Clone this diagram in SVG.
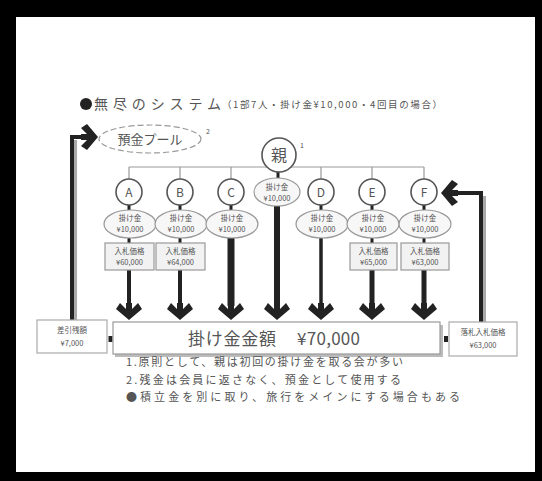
<svg xmlns="http://www.w3.org/2000/svg" width="542" height="481" viewBox="0 0 542 481">
<style>
text{font-family:"Noto Sans CJK JP","Noto Sans",sans-serif;fill:#555}
.lbl{font-size:12px;text-anchor:middle}
.sm{font-size:7.5px;text-anchor:middle}
.circ{fill:#fff;stroke:#555;stroke-width:1.6}
.ell{fill:#f7f7f7;stroke:#999;stroke-width:1.2}
.box{fill:#f2f2f2;stroke:#999;stroke-width:1.2}
.tree{stroke:#999;stroke-width:1.2;fill:none}
.blk{stroke:#222;fill:none}
.shadow{stroke:#aaa;stroke-width:3;fill:none}
</style>
<defs>
<path id="ah" d="M0,0 L-13,-11 L-9,-17 L-3,-11 L-3,-17 L3,-17 L3,-11 L9,-17 L13,-11 Z" fill="#222"/>
</defs>
<rect x="0" y="0" width="542" height="481" fill="#000"/>
<rect x="16" y="17" width="519" height="455" fill="#fff"/>

<g id="title">
<circle cx="86" cy="104" r="6" fill="#222"/>
<text x="94" y="109" font-size="14" textLength="127" lengthAdjust="spacing">無尽のシステム</text>
<text x="222" y="108" font-size="9.5" textLength="220" lengthAdjust="spacing">（1部7人・掛け金¥10,000・4回目の場合）</text>
</g>

<g id="connectors">
<path class="tree" d="M129,167 H424 M129,167 V180 M180,167 V180 M231,167 V180 M321,167 V180 M372,167 V180 M424,167 V180"/>
<path class="blk" stroke-width="3" d="M278,171 V178"/>
<path class="blk" stroke-width="3" d="M129,205 V210 M180,205 V210 M231,205 V210 M321,205 V210 M372,205 V210 M424,205 V210"/>
<path class="blk" stroke-width="3" d="M129,238 V243 M180,238 V243 M372,238 V243 M424,238 V243"/>
<path class="blk" stroke-width="4" d="M129,270 V306 M180,270 V306"/>
<path class="blk" stroke-width="7" d="M231,238 V306"/>
<path class="blk" stroke-width="6" d="M277,206 V306"/>
<path class="blk" stroke-width="3.5" d="M321,238 V306"/>
<path class="blk" stroke-width="5" d="M372,270 V306 M424,270 V306"/>
<use href="#ah" transform="translate(129,320)"/>
<use href="#ah" transform="translate(180,320)"/>
<use href="#ah" transform="translate(231,320)"/>
<use href="#ah" transform="translate(277,320)"/>
<use href="#ah" transform="translate(321,320)"/>
<use href="#ah" transform="translate(372,320)"/>
<use href="#ah" transform="translate(424,320)"/>
<path class="shadow" d="M75.5,320 V140"/>
<path class="blk" stroke-width="4" d="M72,320 V137 H88"/>
<use href="#ah" transform="translate(98,137) rotate(-90)"/>
<path class="shadow" d="M484.5,322 V196"/>
<path class="blk" stroke-width="4" d="M481,322 V193 H452"/>
<use href="#ah" transform="translate(441,193) rotate(90)"/>
<rect x="108.5" y="336" width="4" height="6" fill="#222"/>
<rect x="444" y="336" width="4" height="6" fill="#222"/>
</g>

<g id="pool">
<ellipse cx="150" cy="139" rx="51" ry="14" fill="#fff" stroke="#999" stroke-width="1.2" stroke-dasharray="6 3"/>
<text x="150" y="144" font-size="13" text-anchor="middle">預金プール</text>
<text x="206" y="134" font-size="7">2</text>
</g>

<g id="oya">
<circle class="circ" cx="279" cy="155" r="17"/>
<text x="279" y="161" font-size="16" text-anchor="middle">親</text>
<text x="300" y="148" font-size="7">1</text>
<ellipse class="ell" cx="277" cy="192" rx="23" ry="14"/>
<text class="sm" x="277" y="190">掛け金</text>
<text class="sm" x="277" y="201">¥10,000</text>
</g>

<g id="nodeA">
<circle class="circ" cx="129" cy="192" r="13"/>
<text class="lbl" x="129" y="197" font-size="13">A</text>
<ellipse class="ell" cx="130" cy="224" rx="26" ry="14"/>
<text class="sm" x="130" y="221">掛け金</text>
<text class="sm" x="130" y="232">¥10,000</text>
<rect class="box" x="105" y="243" width="49" height="27"/>
<text class="sm" x="129.5" y="254">入札価格</text>
<text class="sm" x="129.5" y="265">¥60,000</text>
</g>
<g id="nodeB">
<circle class="circ" cx="180" cy="192" r="13"/>
<text class="lbl" x="180" y="197" font-size="13">B</text>
<ellipse class="ell" cx="181" cy="224" rx="26" ry="14"/>
<text class="sm" x="181" y="221">掛け金</text>
<text class="sm" x="181" y="232">¥10,000</text>
<rect class="box" x="156" y="243" width="49" height="27"/>
<text class="sm" x="180.5" y="254">入札価格</text>
<text class="sm" x="180.5" y="265">¥64,000</text>
</g>
<g id="nodeC">
<circle class="circ" cx="231" cy="192" r="13"/>
<text class="lbl" x="231" y="197" font-size="13">C</text>
<ellipse class="ell" cx="232" cy="224" rx="26" ry="14"/>
<text class="sm" x="232" y="221">掛け金</text>
<text class="sm" x="232" y="232">¥10,000</text>
</g>
<g id="nodeD">
<circle class="circ" cx="321" cy="192" r="13"/>
<text class="lbl" x="321" y="197" font-size="13">D</text>
<ellipse class="ell" cx="322" cy="224" rx="26" ry="14"/>
<text class="sm" x="322" y="221">掛け金</text>
<text class="sm" x="322" y="232">¥10,000</text>
</g>
<g id="nodeE">
<circle class="circ" cx="372" cy="192" r="13"/>
<text class="lbl" x="372" y="197" font-size="13">E</text>
<ellipse class="ell" cx="373" cy="224" rx="26" ry="14"/>
<text class="sm" x="373" y="221">掛け金</text>
<text class="sm" x="373" y="232">¥10,000</text>
<rect class="box" x="350" y="243" width="47" height="27"/>
<text class="sm" x="373.5" y="254">入札価格</text>
<text class="sm" x="373.5" y="265">¥65,000</text>
</g>
<g id="nodeF">
<circle class="circ" cx="424" cy="192" r="13"/>
<text class="lbl" x="424" y="197" font-size="13">F</text>
<ellipse class="ell" cx="425" cy="224" rx="26" ry="14"/>
<text class="sm" x="425" y="221">掛け金</text>
<text class="sm" x="425" y="232">¥10,000</text>
<rect class="box" x="401" y="243" width="48" height="27"/>
<text class="sm" x="425" y="254">入札価格</text>
<text class="sm" x="425" y="265">¥63,000</text>
</g>

<g id="total">
<rect x="115" y="325" width="328" height="32" fill="#bbb"/>
<rect x="113" y="322" width="327" height="32" fill="#fff" stroke="#999" stroke-width="1.2"/>
<text x="188" y="345" font-size="17" textLength="88" lengthAdjust="spacing">掛け金金額</text>
<text x="297" y="345" font-size="17" textLength="63" lengthAdjust="spacing">¥70,000</text>
</g>

<g id="remain">
<rect x="37" y="320" width="70" height="33" fill="#fff" stroke="#aaa" stroke-width="1.2"/>
<text class="sm" x="72" y="333">差引残額</text>
<text class="sm" x="72" y="346">¥7,000</text>
</g>

<g id="winner">
<rect x="449" y="322" width="68" height="34" fill="#fff" stroke="#aaa" stroke-width="1.2"/>
<text class="sm" x="483" y="335">落札入札価格</text>
<text class="sm" x="483" y="348">¥63,000</text>
</g>

<g id="notes">
<text x="126" y="366" font-size="11" textLength="277" lengthAdjust="spacing">1.原則として、親は初回の掛け金を取る会が多い</text>
<text x="126" y="384" font-size="11" textLength="275" lengthAdjust="spacing">2.残金は会員に返さなく、預金として使用する</text>
<text x="126" y="401" font-size="11" textLength="334" lengthAdjust="spacing">●積立金を別に取り、旅行をメインにする場合もある</text>
</g>
</svg>
